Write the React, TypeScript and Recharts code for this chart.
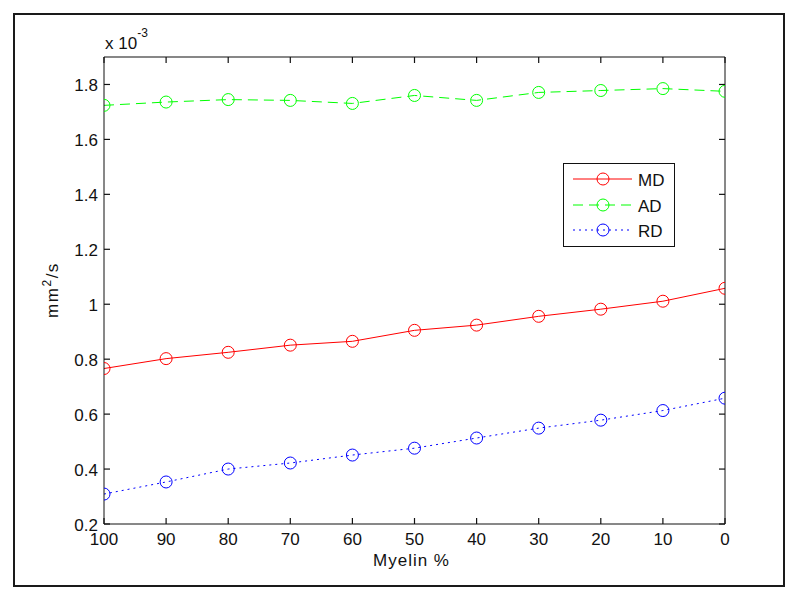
import React from 'react';
import { LineChart, Line, XAxis, YAxis } from 'recharts';

const myelin = [100, 90, 80, 70, 60, 50, 40, 30, 20, 10, 0];
const md = [0.766, 0.802, 0.825, 0.851, 0.865, 0.905, 0.924, 0.956, 0.982, 1.011, 1.058];
const ad = [1.724, 1.736, 1.745, 1.742, 1.731, 1.760, 1.742, 1.771, 1.778, 1.785, 1.775];
const rd = [0.309, 0.353, 0.400, 0.422, 0.451, 0.476, 0.513, 0.549, 0.578, 0.613, 0.658];
const xTicks = [100, 90, 80, 70, 60, 50, 40, 30, 20, 10, 0];
const yTicks = [0.2, 0.4, 0.6, 0.8, 1.0, 1.2, 1.4, 1.6, 1.8];
const yMin = 0.2;
const yMax = 1.9;
const seriesNames = ['MD', 'AD', 'RD'];
const seriesKeys = ['md', 'ad', 'rd'];
const seriesColors = ['#ff0000', '#00ff00', '#0000ff'];
const seriesDash = ['', '10 6', '2 4'];

const data = myelin.map((m, i) => ({ myelin: m, md: md[i], ad: ad[i], rd: rd[i] }));

const CHART_W = 800;
const CHART_H = 602;
const M_TOP = 57;
const M_RIGHT = 74;
const RIGHT_W = 1;
const Y_AXIS_W = 104;
const X_AXIS_H = 78;
const PLOT_W = CHART_W - Y_AXIS_W - M_RIGHT - RIGHT_W;
const PLOT_H = CHART_H - M_TOP - X_AXIS_H;
const TICK = 6;

const FONT = '"Liberation Sans", Arial, Helvetica, sans-serif';
const INK = '#111';

const fmtY = (v: number) => String(Number(v.toFixed(1)));

const LeftTick = (p: any) => {
  const { x, y, payload } = p;
  return (
    <g>
      <line x1={x} y1={y} x2={x + TICK} y2={y} stroke={INK} strokeWidth={1.2} />
      <line x1={x + PLOT_W - TICK} y1={y} x2={x + PLOT_W} y2={y} stroke={INK} strokeWidth={1.2} />
      <text x={x - 6} y={y + 6.5} textAnchor="end" fontSize={17} fontFamily={FONT} fill={INK}>
        {fmtY(payload.value)}
      </text>
    </g>
  );
};

const BottomTick = (p: any) => {
  const { x, y, payload } = p;
  return (
    <g>
      <line x1={x} y1={y} x2={x} y2={y - TICK} stroke={INK} strokeWidth={1.2} />
      <line x1={x} y1={y - PLOT_H} x2={x} y2={y - PLOT_H + TICK} stroke={INK} strokeWidth={1.2} />
      <text x={x} y={y + 21} textAnchor="middle" fontSize={17} fontFamily={FONT} fill={INK}>
        {String(payload.value)}
      </text>
    </g>
  );
};

const LegendBox = () => {
  const rows = [16, 42, 67];
  return (
    <g transform="translate(563,163)">
      <rect x={0.5} y={0.5} width={111} height={83} fill="#fff" stroke={INK} strokeWidth={1} />
      {seriesNames.map((n, i) => (
        <g key={n}>
          <line
            x1={10}
            y1={rows[i]}
            x2={69}
            y2={rows[i]}
            stroke={seriesColors[i]}
            strokeWidth={1}
            strokeDasharray={seriesDash[i] || undefined}
          />
          <circle cx={40} cy={rows[i]} r={6} fill="none" stroke={seriesColors[i]} strokeWidth={1} />
          <text x={75} y={rows[i] + 6.5} fontSize={17} fontFamily={FONT} fill={INK}>
            {n}
          </text>
        </g>
      ))}
    </g>
  );
};

export default function App() {
  return (
    <div style={{ position: 'absolute', left: 0, top: 0, width: CHART_W, height: CHART_H, background: '#fff' }}>
      <div
        style={{
          position: 'absolute',
          left: 13,
          top: 13,
          width: 772,
          height: 574,
          boxSizing: 'border-box',
          border: '2px solid #1a1a1a',
        }}
      />
      <div style={{ position: 'absolute', left: 0, top: 0 }}>
        <LineChart width={CHART_W} height={CHART_H} data={data} margin={{ top: M_TOP, right: M_RIGHT, left: 0, bottom: 0 }}>
          <XAxis
            dataKey="myelin"
            type="number"
            domain={[0, 100]}
            reversed
            ticks={xTicks}
            height={X_AXIS_H}
            tickSize={0}
            tickMargin={0}
            tickLine={false}
            axisLine={{ stroke: INK }}
            tick={(p: any) => <BottomTick {...p} />}
            allowDataOverflow
            interval={0}
          />
          <YAxis
            type="number"
            domain={[yMin, yMax]}
            ticks={yTicks}
            width={Y_AXIS_W}
            tickSize={0}
            tickMargin={0}
            tickLine={false}
            axisLine={{ stroke: INK }}
            tick={(p: any) => <LeftTick {...p} />}
            allowDataOverflow
            interval={0}
          />
          <YAxis
            yAxisId="right"
            orientation="right"
            type="number"
            domain={[yMin, yMax]}
            ticks={yTicks}
            width={RIGHT_W}
            tickLine={false}
            axisLine={{ stroke: INK }}
            tick={false}
            allowDataOverflow
            interval={0}
          />
          {seriesKeys.map((k, i) => (
            <Line
              key={k}
              dataKey={k}
              name={seriesNames[i]}
              type="linear"
              stroke={seriesColors[i]}
              strokeWidth={1}
              strokeDasharray={seriesDash[i] || undefined}
              dot={{ r: 6, stroke: seriesColors[i], strokeWidth: 1, fill: 'none', strokeDasharray: 'none' }}
              activeDot={false}
              isAnimationActive={false}
            />
          ))}
        </LineChart>
      </div>
      <svg
        width={CHART_W}
        height={CHART_H}
        style={{ position: 'absolute', left: 0, top: 0, pointerEvents: 'none' }}
        fontFamily={FONT}
        fill={INK}
      >
        <line x1={Y_AXIS_W} y1={M_TOP} x2={Y_AXIS_W + PLOT_W} y2={M_TOP} stroke={INK} strokeWidth={1.2} />
        <LegendBox />
        <text x={105} y={49} fontSize={17}>
          x 10
          <tspan dy={-12} fontSize={12}>
            -3
          </tspan>
        </text>
        <text x={-290} y={58} transform="rotate(-90)" textAnchor="middle" fontSize={17} letterSpacing={1.5}>
          mm
          <tspan dy={-7} fontSize={12}>
            2
          </tspan>
          <tspan dy={7}>/s</tspan>
        </text>
        <text x={411.5} y={566} textAnchor="middle" fontSize={17} letterSpacing={1}>
          Myelin %
        </text>
      </svg>
    </div>
  );
}
